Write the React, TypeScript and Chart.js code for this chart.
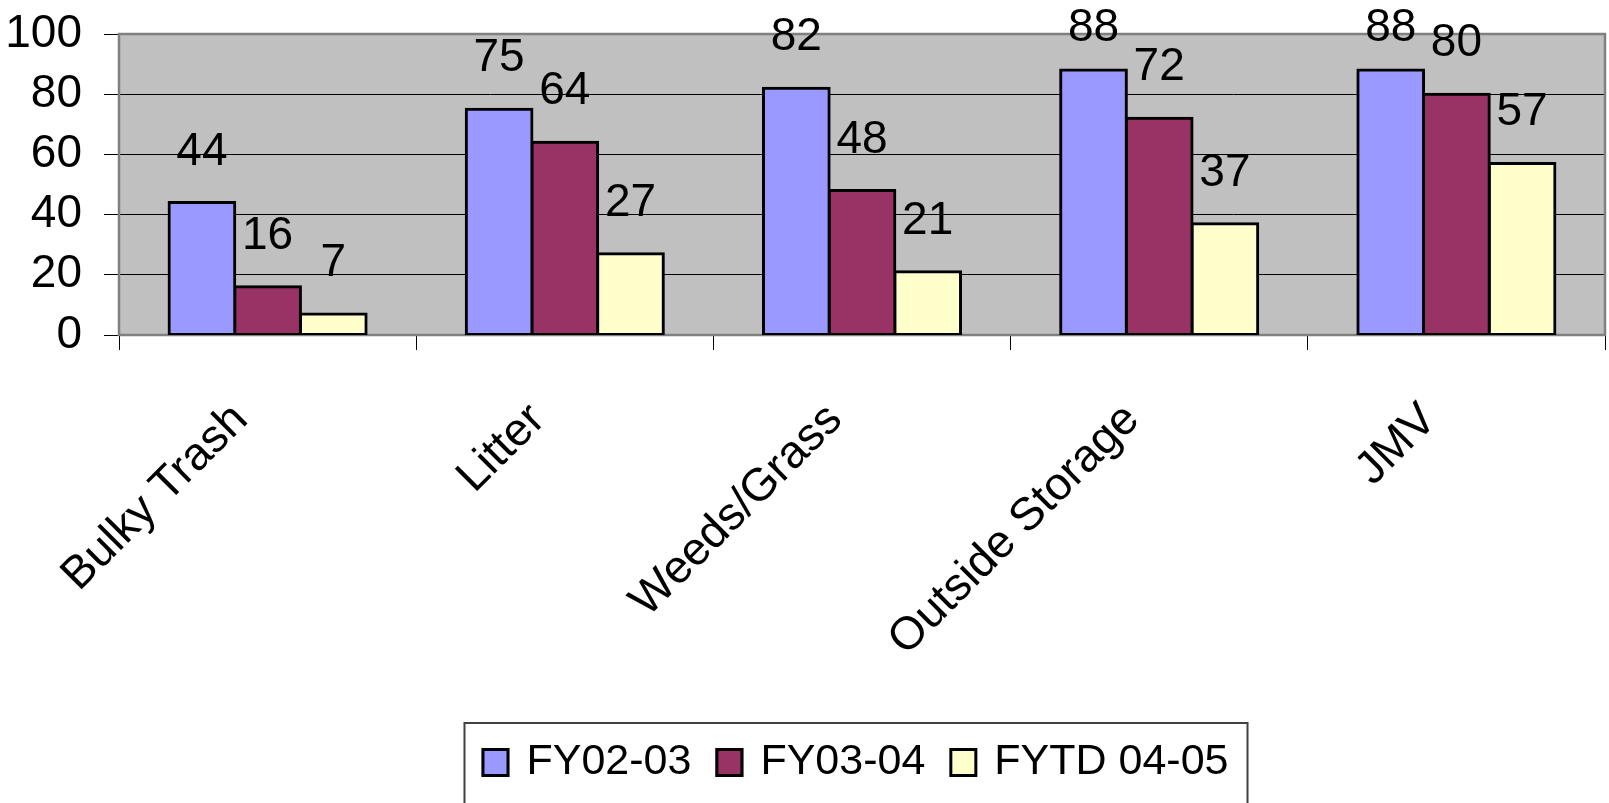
import React, { useEffect, useRef } from "react";
import { Chart, registerables } from "chart.js";

Chart.register(...registerables);

const FONT = "'Liberation Sans', Arial, Helvetica, sans-serif";

const categories = ["Bulky Trash", "Litter", "Weeds/Grass", "Outside Storage", "JMV"];
const seriesNames = ["FY02-03", "FY03-04", "FYTD 04-05"];
const fy0203 = [44, 75, 82, 88, 88];
const fy0304 = [16, 64, 48, 72, 80];
const fytd0405 = [7, 27, 21, 37, 57];
const yTickValues = [0, 20, 40, 60, 80, 100];
const seriesColors = ["#9999FF", "#993366", "#FFFFCC"];

const plotBackground = {
  id: "plotBackground",
  beforeDraw(chart: any) {
    const { ctx, chartArea } = chart;
    ctx.save();
    ctx.fillStyle = "#C0C0C0";
    ctx.fillRect(chartArea.left, chartArea.top, chartArea.right - chartArea.left, chartArea.bottom - chartArea.top);
    ctx.restore();
  },
  beforeDatasetsDraw(chart: any) {
    const { ctx, chartArea } = chart;
    ctx.save();
    ctx.strokeStyle = "#808080";
    ctx.lineWidth = 2.5;
    ctx.strokeRect(chartArea.left, chartArea.top, chartArea.right - chartArea.left, chartArea.bottom - chartArea.top);
    ctx.restore();
  },
};

const dataLabels = {
  id: "dataLabels",
  afterDatasetsDraw(chart: any) {
    const ctx = chart.ctx;
    ctx.save();
    ctx.font = `46px ${FONT}`;
    ctx.fillStyle = "#000";
    ctx.textAlign = "center";
    ctx.textBaseline = "alphabetic";
    chart.data.datasets.forEach((ds: any, i: number) => {
      const meta = chart.getDatasetMeta(i);
      meta.data.forEach((el: any, j: number) => {
        const y = Math.max(el.y - 38, 41);
        ctx.fillText(String(ds.data[j]), el.x, y);
      });
    });
    ctx.restore();
  },
};

const legendBox = {
  id: "legendBox",
  afterDraw(chart: any) {
    const ctx = chart.ctx;
    ctx.save();
    ctx.font = `43px ${FONT}`;
    const sw = 28;
    const sh = 29;
    const gapText = 17;
    const gapItem = 24;
    const items = chart.data.datasets.map((ds: any) => ({
      label: ds.label as string,
      color: ds.backgroundColor as string,
      w: ctx.measureText(ds.label).width,
    }));
    const total =
      items.reduce((s: number, it: any) => s + sw + gapText + it.w, 0) + gapItem * (items.length - 1);
    const start = 855 - total / 2;
    const boxTop = 723;
    ctx.strokeStyle = "#404040";
    ctx.lineWidth = 2;
    ctx.strokeRect(start - 17, boxTop, total + 36, 120);
    let x = start;
    const swTop = 748;
    const baseline = 774;
    items.forEach((it: any) => {
      ctx.fillStyle = it.color;
      ctx.fillRect(x, swTop, sw, sh);
      ctx.strokeStyle = "#000";
      ctx.lineWidth = 3;
      ctx.strokeRect(x + 1.5, swTop + 1.5, sw - 3, sh - 3);
      ctx.fillStyle = "#000";
      ctx.textAlign = "left";
      ctx.textBaseline = "alphabetic";
      ctx.fillText(it.label, x + sw + gapText, baseline);
      x += sw + gapText + it.w + gapItem;
    });
    ctx.restore();
  },
};

export default function App() {
  const canvasRef = useRef<HTMLCanvasElement | null>(null);

  useEffect(() => {
    if (!canvasRef.current) return;
    const seriesData = [fy0203, fy0304, fytd0405];
    const chart = new Chart(canvasRef.current, {
      type: "bar",
      data: {
        labels: categories,
        datasets: seriesNames.map((name, i) => ({
          label: name,
          data: seriesData[i],
          backgroundColor: seriesColors[i],
          borderColor: "#000000",
          borderWidth: 3,
          borderSkipped: false,
          inflateAmount: 1.5,
          categoryPercentage: 0.663,
          barPercentage: 1.0,
        })),
      },
      options: {
        animation: false,
        responsive: false,
        layout: { padding: { top: 34, right: 4, left: 0, bottom: 0 } },
        plugins: {
          legend: { display: false },
          tooltip: { enabled: false },
          title: { display: false },
        },
        scales: {
          x: {
            offset: true,
            grid: {
              offset: true,
              drawOnChartArea: false,
              drawTicks: true,
              tickLength: 15,
              color: "#000000",
              lineWidth: 1,
            },
            border: { display: false },
            ticks: {
              autoSkip: false,
              minRotation: 45,
              maxRotation: 45,
              font: { family: FONT, size: 46 },
              color: "#000000",
              padding: 43,
              labelOffset: -27,
            },
            afterFit: (s: any) => {
              s.height = 468;
              s.paddingLeft = 0;
              s.paddingRight = 0;
            },
          },
          y: {
            min: 0,
            max: 100,
            afterBuildTicks: (s: any) => {
              s.ticks = yTickValues.map((v) => ({ value: v }));
            },
            ticks: {
              autoSkip: false,
              font: { family: FONT, size: 46 },
              color: "#000000",
              padding: 22,
            },
            grid: { color: "#000000", lineWidth: 1, tickLength: 15 },
            border: { display: false },
            afterFit: (s: any) => {
              s.width = 119;
              s.paddingTop = 0;
              s.paddingBottom = 0;
            },
          },
        },
      } as any,
      plugins: [plotBackground, dataLabels, legendBox],
    });
    return () => chart.destroy();
  }, []);

  return (
    <div style={{ position: "absolute", left: 0, top: 0, width: 1609, height: 803, background: "#fff" }}>
      <canvas ref={canvasRef} width={1609} height={803} style={{ display: "block", width: 1609, height: 803 }} />
    </div>
  );
}
